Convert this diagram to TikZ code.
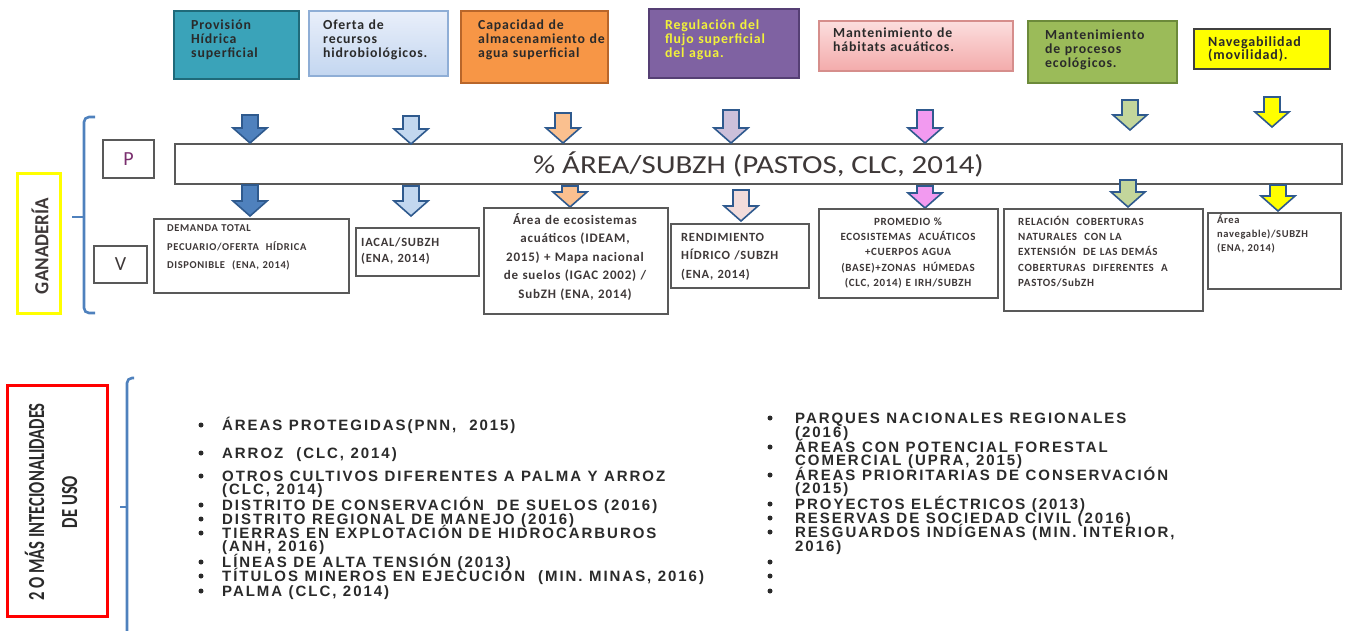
\documentclass[tikz,border=0pt]{standalone}
\usepackage{fontspec}
\setmainfont{Carlito}
\newfontfamily\calsp[LetterSpace=6]{Carlito}
\newfontfamily\arl[LetterSpace=13]{Liberation Sans}
\newcommand\widesp{\spaceskip=6.5pt plus 1pt\relax}
\definecolor{brblue}{HTML}{4F81BD}
\definecolor{arrline}{HTML}{2F5A8E}
\definecolor{c1}{HTML}{3AA3B9}\definecolor{c1d}{HTML}{1F6A7A}
\definecolor{c2a}{HTML}{E9EFFA}\definecolor{c2b}{HTML}{C3D6F0}\definecolor{c2d}{HTML}{8FAED6}
\definecolor{c3}{HTML}{F79646}\definecolor{c3d}{HTML}{B8662A}
\definecolor{c4}{HTML}{7F62A2}\definecolor{c4d}{HTML}{553F74}
\definecolor{c5a}{HTML}{FCDEDE}\definecolor{c5b}{HTML}{F3ABAB}\definecolor{c5d}{HTML}{D68E8C}
\definecolor{c6}{HTML}{9BBB59}\definecolor{c6d}{HTML}{6C8A3A}
\definecolor{c7}{HTML}{FFFF00}\definecolor{c7d}{HTML}{404040}
\definecolor{txtyel}{HTML}{F2F23A}
\definecolor{a1}{HTML}{4F81BD}\definecolor{a2}{HTML}{C2D7EF}\definecolor{a3}{HTML}{FAC08F}
\definecolor{a4}{HTML}{CCC0DA}\definecolor{a4b}{HTML}{F2DCDB}\definecolor{a5}{HTML}{F29AF0}
\definecolor{a6}{HTML}{C3D69B}\definecolor{a7}{HTML}{FFFF00}
\definecolor{boxline}{HTML}{595959}
\definecolor{vtxt}{HTML}{3E3838}
\definecolor{ltxt}{HTML}{2A2A2A}
\definecolor{pcol}{HTML}{7A2F6E}
\newcommand\blkarr[4]{\draw[arrline,line width=1.6pt,fill=#4,line join=miter]
 (#1-8,#2) -- (#1+8,#2) -- (#1+8,#3-15) -- (#1+17,#3-15) -- (#1,#3) -- (#1-17,#3-15) -- (#1-8,#3-15) -- cycle;}
\begin{document}
\begin{tikzpicture}[x=1pt,y=-1pt,
  tbox/.style={draw,line width=2.2pt,anchor=north west,inner sep=0pt},
  tlbl/.style={anchor=base west,inner sep=0pt,text width=170pt,align=left,font=\calsp\bfseries\fontsize{13.8}{14}\selectfont,text=ltxt},
  vbox/.style={draw=boxline,line width=1.6pt,fill=white,anchor=north west,inner sep=0pt},
  vlbl/.style={anchor=base west,inner sep=0pt,align=left,text=vtxt},
  capsf/.style={font=\calsp\bfseries\fontsize{11}{15.2}\selectfont},
  bul/.style={circle,fill=ltxt,inner sep=0pt,minimum size=5pt},
  itm/.style={anchor=base west,inner sep=0pt,text width=520pt,align=left,font=\arl\bfseries\fontsize{15}{13.8}\selectfont,text=ltxt},
  brace/.style={draw=brblue,line width=2.6pt,rounded corners=5pt}]
\useasboundingbox (0,0) rectangle (1347,630);
% top boxes
\node[tbox,draw=c1d,fill=c1,minimum width=125pt,minimum height=68pt] (T1) at (173,10) {};
\node[tbox,draw=c2d,top color=c2a,bottom color=c2b,minimum width=139pt,minimum height=65pt] (T2) at (308,10) {};
\node[tbox,draw=c3d,fill=c3,minimum width=147pt,minimum height=72pt] (T3) at (460,10) {};
\node[tbox,draw=c4d,fill=c4,minimum width=150pt,minimum height=69pt] (T4) at (648,8) {};
\node[tbox,draw=c5d,top color=c5a,bottom color=c5b,minimum width=194pt,minimum height=50pt,line width=1.6pt] (T5) at (818,20) {};
\node[tbox,draw=c6d,fill=c6,minimum width=149pt,minimum height=62pt] (T6) at (1027,20) {};
\node[tbox,draw=c7d,fill=c7,minimum width=136pt,minimum height=40pt,line width=1.6pt] (T7) at (1193,28) {};
\node[tlbl] (L1) at (191,29) {Provisión\\Hídrica\\superficial};
\node[tlbl] (L2) at (323,29) {Oferta de\\recursos\\hidrobiológicos.};
\node[tlbl] (L3) at (478,29) {Capacidad de\\almacenamiento de\\agua superficial};
\node[tlbl,text=txtyel] (L4) at (665,29) {Regulación del\\flujo superficial\\del agua.};
\node[tlbl] (L5) at (833,37) {Mantenimiento de\\hábitats acuáticos.};
\node[tlbl] (L6) at (1045,39) {Mantenimiento\\de procesos\\ecológicos.};
\node[tlbl,font=\calsp\bfseries\fontsize{14}{13}\selectfont] (L7) at (1208,46) {Navegabilidad\\(movilidad).};
% P and V
\node[draw=boxline,line width=1.6pt,minimum width=51pt,minimum height=38pt,font=\fontsize{20}{20}\selectfont,text=pcol] (P) at (128.5,159) {P};
\node[draw=boxline,line width=1.6pt,minimum width=53pt,minimum height=37pt,font=\fontsize{20}{20}\selectfont,text=vtxt] (V) at (120.5,264.5) {V};
\node[draw=boxline,line width=1.6pt,fill=white,minimum width=1167pt,minimum height=40pt,font=\fontsize{26}{26}\selectfont,text=vtxt] (PB) at (758.5,164) {\scalebox{1.19}[1]{\% ÁREA/SUBZH (PASTOS, CLC, 2014)}};
% arrows top
\blkarr{250}{115}{143}{a1}
\blkarr{411}{116}{144}{a2}
\blkarr{563}{113}{143}{a3}
\blkarr{731}{110}{143}{a4}
\blkarr{925}{110}{143}{a5}
\blkarr{1130}{100}{130}{a6}
\blkarr{1272}{97}{127}{a7}
% arrows bottom
\blkarr{250}{185}{216}{a1}
\blkarr{411}{186}{216}{a2}
\blkarr{570}{186}{207}{a3}
\blkarr{741}{190}{221}{a4b}
\blkarr{925}{186}{208}{a5}
\blkarr{1128}{180}{207}{a6}
\blkarr{1278}{185}{211}{a7}
% V boxes
\node[vbox,minimum width=195pt,minimum height=74pt] (V1) at (153,218) {};
\node[vbox,minimum width=123pt,minimum height=48pt] (V2) at (355,227) {};
\node[vbox,minimum width=184pt,minimum height=106pt] (V3) at (483,207) {};
\node[vbox,minimum width=138pt,minimum height=64pt] (V4) at (670,223) {};
\node[vbox,minimum width=179pt,minimum height=89pt] (V5) at (818,208) {};
\node[vbox,minimum width=199pt,minimum height=102pt] (V6) at (1003,208) {};
\node[vbox,minimum width=133pt,minimum height=76pt] (V7) at (1207,212) {};
\node[vlbl,font=\calsp\bfseries\fontsize{10.5}{18.5}\selectfont,text width=180pt] (W1) at (167,231.5) {DEMANDA TOTAL\\PECUARIO/OFERTA~~HÍDRICA\\DISPONIBLE~~(ENA, 2014)};
\node[vlbl,font=\calsp\bfseries\fontsize{12.5}{16}\selectfont,text width=110pt] (W2) at (361,246) {IACAL/SUBZH\\(ENA, 2014)};
\node[vlbl,anchor=base,align=center,font=\calsp\bfseries\fontsize{13}{18.5}\selectfont,text width=180pt] (W3) at (575,224) {Área de ecosistemas\\acuáticos (IDEAM,\\2015) + Mapa nacional\\de suelos (IGAC 2002) /\\SubZH (ENA, 2014)};
\node[vlbl,font=\calsp\bfseries\fontsize{12.5}{18.5}\selectfont,text width=130pt] (W4) at (681,241) {RENDIMIENTO\\HÍDRICO /SUBZH\\(ENA, 2014)};
\node[vlbl,capsf,anchor=base,align=center,text width=175pt] (W5) at (908,225.5) {PROMEDIO \%\\ECOSISTEMAS~~ACUÁTICOS\\+CUERPOS AGUA\\(BASE)+ZONAS~~HÚMEDAS\\(CLC, 2014) E IRH/SUBZH};
\node[vlbl,capsf,text width=185pt] (W6) at (1018,225.5) {RELACIÓN~~COBERTURAS\\NATURALES~~CON LA\\EXTENSIÓN~~DE LAS DEMÁS\\COBERTURAS~~DIFERENTES~~A\\PASTOS/SubZH};
\node[vlbl,font=\calsp\bfseries\fontsize{10.5}{14}\selectfont,text width=125pt] (W7) at (1217,223) {Área\\navegable)/SUBZH\\(ENA, 2014)};
% left labels
\draw[brace] (95,117) -- (84,117) -- (84,313) -- (95,313);
\draw[brblue,line width=2.6pt] (84,217) -- (72,217);
\node[draw=c7,line width=3pt,minimum width=43pt,minimum height=140pt] (G) at (39,243) {};
\node[rotate=90,font=\bfseries\fontsize{20}{20}\selectfont,text=vtxt,inner sep=0pt] (GL) at (40,246) {\scalebox{0.95}[1]{GANADERÍA}};
\node[draw=red,line width=3pt,minimum width=100pt,minimum height=231pt] (R) at (57.5,501) {};
\node[rotate=90,font=\bfseries\fontsize{23}{33}\selectfont,text=ltxt,align=center,inner sep=0pt] (RL) at (51,502) {\scalebox{0.72}[1]{2 O MÁS INTECIONALIDADES}\\\scalebox{0.72}[1]{DE USO}};
\draw[brace] (134,378) -- (127,378) -- (127,640);
\draw[brblue,line width=2.6pt] (127,507) -- (120,507);
% left list
\foreach \n/\y/\t in {a/430/{ÁREAS PROTEGIDAS(PNN,~ 2015)},b/458/{ARROZ~ (CLC, 2014)},c/481/{OTROS CULTIVOS DIFERENTES A PALMA Y ARROZ\\(CLC, 2014)},d/510/{DISTRITO DE CONSERVACIÓN~ DE SUELOS (2016)},e/524/{DISTRITO REGIONAL DE MANEJO (2016)},f/538/{TIERRAS EN EXPLOTACIÓN DE HIDROCARBUROS\\(ANH, 2016)},g/567/{LÍNEAS DE ALTA TENSIÓN (2013)},h/581/{TÍTULOS MINEROS EN EJECUCIÓN~ (MIN. MINAS, 2016)},i/596/{PALMA (CLC, 2014)}}{
  \node[bul] (lb\n) at (201,\y-5) {};
  \node[itm] (li\n) at (222,\y) {\widesp\t};
}
% right list
\foreach \n/\y/\t in {a/423/{PARQUES NACIONALES REGIONALES\\(2016)},b/452/{ÁREAS CON POTENCIAL FORESTAL\\COMERCIAL (UPRA, 2015)},c/480/{ÁREAS PRIORITARIAS DE CONSERVACIÓN\\(2015)},d/509/{PROYECTOS ELÉCTRICOS (2013)},e/523/{RESERVAS DE SOCIEDAD CIVIL (2016)},f/537/{RESGUARDOS INDÍGENAS (MIN. INTERIOR,\\2016)}}{
  \node[bul] (rb\n) at (770,\y-5) {};
  \node[itm,text width=420pt] (ri\n) at (795,\y) {\widesp\t};
}
\foreach \n/\y in {g/567,h/581,i/596}{\node[bul] (rb\n) at (770,\y-5) {};}
\end{tikzpicture}
\end{document}
